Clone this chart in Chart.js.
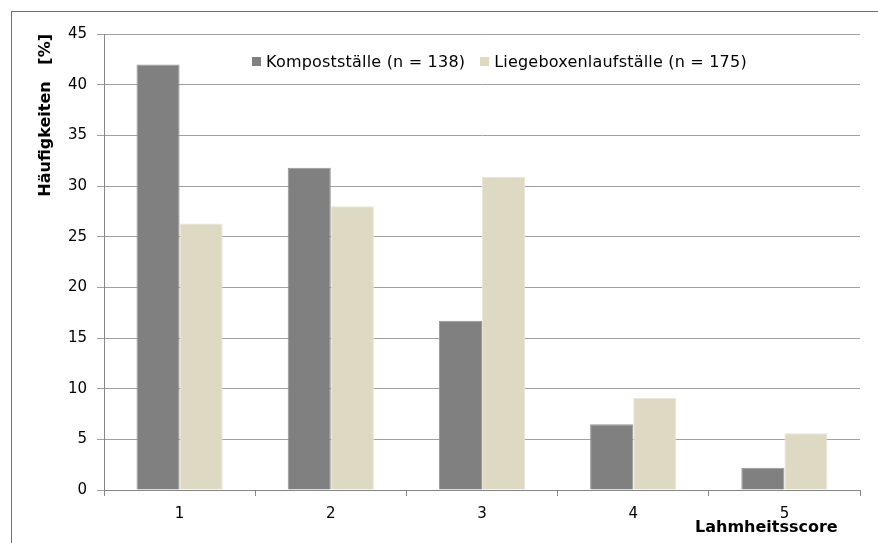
<!DOCTYPE html>
<html>
<head>
<meta charset="utf-8">
<script src="https://cdn.jsdelivr.net/npm/chart.js@4"></script>
<style>
    body { margin: 0; background: #fff; }
    #wrap { position: relative; width: 878px; height: 543px; overflow: hidden; }
    #frame { position: absolute; left: 11px; top: 11px; width: 880px; height: 560px; border: 1px solid #6e6e6e; box-sizing: border-box; }
    canvas { position: absolute; left: 0; top: 0; }
    #legend { position: absolute; left: 252px; top: 52px; display: flex; align-items: center; gap: 15px;
              font: 16px 'DejaVu Sans', Verdana, sans-serif; letter-spacing: 0.2px; color: #000; white-space: nowrap; }
    #legend .item { display: flex; align-items: center; }
    #legend .box { width: 9px; height: 9px; margin-right: 5px; }
</style>
</head>
<body>
<div id="wrap">
    <div id="frame"></div>
    <canvas id="chart" width="878" height="543"></canvas>
    <div id="legend"></div>
</div>
<script>
// Lahmheitsscore categories and frequencies (%)
const scores = ["1", "2", "3", "4", "5"];
const kompost = [42.0, 31.8, 16.7, 6.5, 2.2];
const liegebox = [26.3, 28.0, 30.9, 9.1, 5.6];
const seriesNames = ["Kompostställe (n = 138)", "Liegeboxenlaufställe (n = 175)"];
const yMax = 45;
const yStep = 5;

const font = "'DejaVu Sans', Verdana, sans-serif";

// legend sits inside the plot area, so build it as html from the chart's own legend items
const htmlLegend = {
    id: "htmlLegend",
    afterUpdate(chart) {
        const box = document.getElementById("legend");
        box.innerHTML = "";
        const items = chart.options.plugins.legend.labels.generateLabels(chart);
        items.forEach(it => {
            const row = document.createElement("span");
            row.className = "item";
            const sw = document.createElement("span");
            sw.className = "box";
            sw.style.background = it.fillStyle;
            const txt = document.createElement("span");
            txt.textContent = it.text;
            row.appendChild(sw);
            row.appendChild(txt);
            box.appendChild(row);
        });
    }
};

new Chart(document.getElementById("chart").getContext("2d"), {
    type: "bar",
    data: {
        labels: scores,
        datasets: [
            { label: seriesNames[0], data: kompost, backgroundColor: "#808080", borderColor: "#959595", borderWidth: 1 },
            { label: seriesNames[1], data: liegebox, backgroundColor: "#ddd9c3", borderColor: "#e9e6d8", borderWidth: 1 }
        ]
    },
    options: {
        responsive: false,
        animation: false,
        devicePixelRatio: 1,
        layout: { padding: { left: 12, top: 34, right: 18, bottom: 0 } },
        datasets: { bar: { barPercentage: 1, categoryPercentage: 0.57 } },
        plugins: {
            tooltip: { enabled: false },
            legend: { display: false }
        },
        scales: {
            x: {
                afterFit: s => { s.height = 53; },
                grid: { drawOnChartArea: false, drawTicks: true, tickLength: 6, color: "#868686", offset: true },
                border: { color: "#868686", width: 1 },
                ticks: { color: "#000", padding: 9, font: { family: font, size: 15 } },
                title: {
                    display: true,
                    text: "Lahmheitsscore    ",
                    align: "end",
                    color: "#000",
                    padding: { top: 0, bottom: 6 },
                    font: { family: font, size: 16, weight: "bold" }
                }
            },
            y: {
                min: 0,
                max: yMax,
                afterFit: s => { s.width = 92; },
                grid: { color: "#a0a0a0", tickLength: 7 },
                border: { color: "#868686", width: 1 },
                ticks: { stepSize: yStep, color: "#000", padding: 10, font: { family: font, size: 15 } },
                title: {
                    display: true,
                    text: "Häufigkeiten   [%]",
                    align: "end",
                    color: "#000",
                    padding: { top: 24, bottom: 0 },
                    font: { family: font, size: 16, weight: "bold" }
                }
            }
        }
    },
    plugins: [htmlLegend]
});
</script>
</body>
</html>
